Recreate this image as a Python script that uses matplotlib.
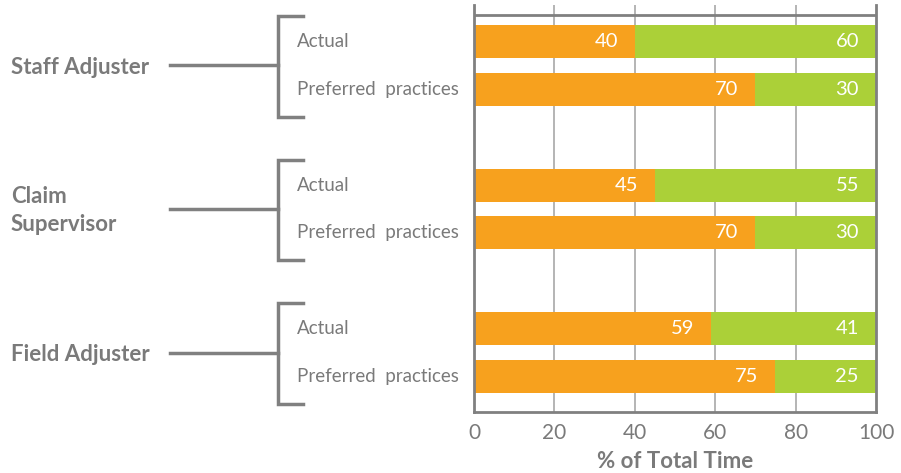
import matplotlib
matplotlib.use("Agg")
import matplotlib.pyplot as plt
import matplotlib.transforms as mtransforms

plt.rcParams['font.family'] = ['Lato', 'DejaVu Sans']

groups = ["Staff Adjuster", "Claim\nSupervisor", "Field Adjuster"]
rows = ["Actual", "Preferred  practices"]
orange_vals = [40, 70, 45, 70, 59, 75]
green_vals = [60, 30, 55, 30, 41, 25]
xticks = [0, 20, 40, 60, 80, 100]
xlabel = "% of Total Time"

ORANGE = "#F7A11E"
GREEN = "#ABD038"
GRAY = "#808080"
TEXT = "#7a7a7a"

fig = plt.figure(figsize=(9.01, 4.73), dpi=100)
ax = fig.add_axes([474/901, 1-412/473, (876-474)/901, (412-5)/473])

ypos = []
for g in range(len(groups)):
    for r in range(len(rows)):
        ypos.append(g*3 + r)

h = 0.69
ax.barh(ypos, orange_vals, height=h, color=ORANGE, zorder=2)
ax.barh(ypos, green_vals, left=orange_vals, height=h, color=GREEN, zorder=2)

for y, o, gv in zip(ypos, orange_vals, green_vals):
    ax.annotate(str(o), (o, y), xytext=(-17, 0), textcoords='offset pixels',
                ha='right', va='center', color='white', fontsize=14.5, zorder=3)
    ax.annotate(str(gv), (o+gv, y), xytext=(-17, 0), textcoords='offset pixels',
                ha='right', va='center', color='white', fontsize=14.5, zorder=3)

ax.set_xlim(0, 100)
ax.set_ylim(7.74, -0.76)
ax.set_xticks(xticks)
ax.set_yticks([])
for xv in xticks[1:-1]:
    ax.axvline(xv, color="#a8a8a8", lw=1.2, zorder=0)
ax.axhline(-0.55, color=GRAY, lw=2, zorder=1)
for s in ['left', 'right', 'bottom']:
    ax.spines[s].set_color(GRAY)
    ax.spines[s].set_linewidth(2)
ax.spines['top'].set_visible(False)
ax.tick_params(axis='x', length=0, pad=8, labelsize=15, labelcolor=TEXT)
ax.set_xlabel(xlabel, fontsize=16, fontweight='bold', color=TEXT, labelpad=6)

trans = mtransforms.blended_transform_factory(fig.dpi_scale_trans, ax.transData)
def px(x):
    return x / 100.0

for g, name in enumerate(groups):
    y0 = g*3 - 0.53
    y1 = g*3 + 1 + 0.57
    yc = g*3 + 0.5
    ax.plot([px(303), px(278), px(278), px(303)], [y0, y0, y1, y1], color=GRAY, lw=2.5,
            transform=trans, clip_on=False, solid_joinstyle='miter')
    ax.plot([px(170), px(278)], [yc, yc], color=GRAY, lw=2.5, transform=trans, clip_on=False)
    ax.text(px(11), yc + 0.04, name, transform=trans, ha='left', va='center', fontsize=16,
            fontweight='bold', color=TEXT, linespacing=1.4)
    for r, rn in enumerate(rows):
        ax.text(px(297), g*3 + r, rn, transform=trans, ha='left', va='center',
                fontsize=13.5, color=TEXT)

fig.savefig("out.png", dpi=100)
